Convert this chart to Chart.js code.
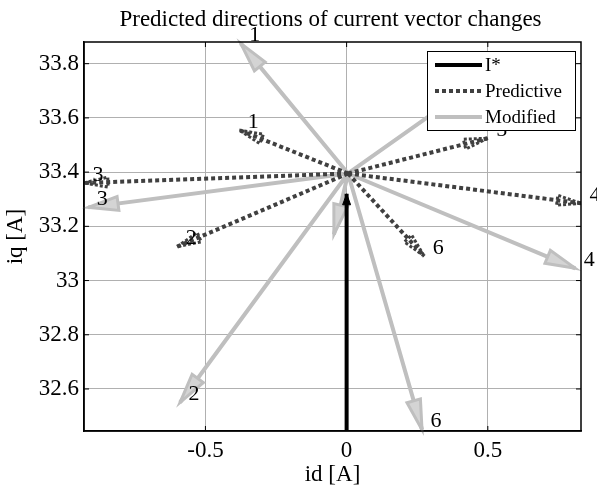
<!DOCTYPE html>
<html lang="en">
<head>
    <meta charset="UTF-8">
    <script src="https://cdn.jsdelivr.net/npm/chart.js"></script>
    <title>Predicted directions</title>
    <style>
        body { margin: 0; background: #fff; }
        #wrap { width: 597px; height: 492px; }
    </style>
</head>
<body>
<div id="wrap"><canvas id="vec"></canvas></div>
<script>
    // data
    const vecNames = ['1', '2', '3', '4', '5', '6'];
    const origin = [0.005, 33.395];
    const predId = [-0.38, -0.6, -0.93, 0.83, 0.5, 0.275];
    const predIq = [33.555, 33.125, 33.36, 33.285, 33.525, 33.09];
    const modId = [-0.375, -0.59, -0.915, 0.81, 0.5, 0.267, -0.045];
    const modIq = [33.875, 32.55, 33.27, 33.045, 33.76, 32.45, 33.17];
    const refId = [0, 0];
    const refIq = [32.445, 33.32];
    const xTicks = [-0.5, 0, 0.5];
    const yTicks = [32.6, 32.8, 33, 33.2, 33.4, 33.6, 33.8];

    const serif = "'Liberation Serif', 'Times New Roman', serif";

    function vecData(ids, iqs) {
        let out = [];
        for (let i = 0; i < ids.length; i++) {
            out.push({ x: origin[0], y: origin[1] }, { x: ids[i], y: iqs[i] }, { x: null, y: null });
        }
        return out;
    }

    function head(ctx, p0, p1, a) {
        let ang = Math.atan2(p1.y - p0.y, p1.x - p0.x);
        let c = Math.cos(ang), s = Math.sin(ang);
        let bx = p1.x - a.len * c, by = p1.y - a.len * s;
        ctx.save();
        ctx.beginPath();
        ctx.moveTo(p1.x, p1.y);
        ctx.lineTo(bx - a.half * s, by + a.half * c);
        ctx.lineTo(bx + a.half * s, by - a.half * c);
        ctx.closePath();
        if (a.fill) { ctx.fillStyle = a.fill; ctx.fill(); }
        ctx.setLineDash(a.dash || []);
        ctx.lineWidth = a.width;
        ctx.strokeStyle = a.color;
        ctx.stroke();
        ctx.restore();
    }

    const arrowPlugin = {
        id: 'arrowHeads',
        afterDatasetDraw(chart, args) {
            let ds = chart.data.datasets[args.index];
            if (!ds.arrow) return;
            let pts = args.meta.data;
            for (let k = 0; k + 1 < pts.length; k += 3) {
                head(chart.ctx, pts[k], pts[k + 1], ds.arrow);
            }
        }
    };

    const boxPlugin = {
        id: 'matlabBox',
        afterDatasetsDraw(chart) {
            let ctx = chart.ctx, a = chart.chartArea;
            let xs = chart.scales.x, ys = chart.scales.y;
            ctx.save();
            ctx.strokeStyle = '#000';
            ctx.lineWidth = 1.5;
            ctx.strokeRect(a.left, a.top, a.right - a.left, a.bottom - a.top);
            ctx.lineWidth = 1;
            ctx.beginPath();
            xTicks.forEach(v => {
                let px = xs.getPixelForValue(v);
                ctx.moveTo(px, a.bottom); ctx.lineTo(px, a.bottom - 5);
                ctx.moveTo(px, a.top); ctx.lineTo(px, a.top + 5);
            });
            yTicks.forEach(v => {
                let py = ys.getPixelForValue(v);
                ctx.moveTo(a.left, py); ctx.lineTo(a.left + 5, py);
                ctx.moveTo(a.right, py); ctx.lineTo(a.right - 5, py);
            });
            ctx.stroke();
            ctx.restore();
        },
        afterDraw(chart) {
            let ctx = chart.ctx, a = chart.chartArea;
            ctx.save();
            // title
            ctx.fillStyle = '#000';
            ctx.font = '23px ' + serif;
            ctx.textAlign = 'center';
            ctx.textBaseline = 'middle';
            ctx.fillText('Predicted directions of current vector changes', (a.left + a.right) / 2 - 2, 20);

            // vector numbers
            ctx.font = '22px ' + serif;
            [1, 2].forEach(di => {
                let pts = chart.getDatasetMeta(di).data;
                vecNames.forEach((name, i) => {
                    let p = pts[i * 3 + 1];
                    ctx.fillText(name, p.x + 14, p.y - 8);
                });
            });

            // legend box
            let lx = a.right - 154, ly = a.top + 9, lw = 148, lh = 79;
            ctx.fillStyle = '#fff';
            ctx.fillRect(lx, ly, lw, lh);
            ctx.strokeStyle = '#000';
            ctx.lineWidth = 1;
            ctx.strokeRect(lx + 0.5, ly + 0.5, lw, lh);
            ctx.font = '19px ' + serif;
            ctx.textAlign = 'left';
            chart.data.datasets.forEach((ds, i) => {
                let y = ly + 14 + i * 26;
                ctx.beginPath();
                ctx.setLineDash(ds.borderDash || []);
                ctx.strokeStyle = ds.borderColor;
                ctx.lineWidth = ds.borderWidth;
                ctx.moveTo(lx + 8, y);
                ctx.lineTo(lx + 55, y);
                ctx.stroke();
                ctx.setLineDash([]);
                ctx.fillStyle = '#000';
                ctx.fillText(ds.label, lx + 58, y + 1);
            });
            ctx.restore();
        }
    };

    let ctx = document.getElementById('vec').getContext('2d');
    let vecChart = new Chart(ctx, {
        type: 'scatter',
        data: {
            datasets: [
                {
                    label: 'I*',
                    data: [{ x: refId[0], y: refIq[0] }, { x: refId[1], y: refIq[1] }],
                    showLine: true,
                    borderColor: '#000000',
                    borderWidth: 4,
                    pointRadius: 0,
                    arrow: { len: 11, half: 4, width: 1, color: '#000', fill: '#000' }
                },
                {
                    label: 'Predictive',
                    data: vecData(predId, predIq),
                    showLine: true,
                    borderColor: '#404040',
                    borderWidth: 4,
                    borderDash: [4, 3],
                    pointRadius: 0,
                    arrow: { len: 24, half: 5, width: 3, color: '#404040', dash: [3, 2] }
                },
                {
                    label: 'Modified',
                    data: vecData(modId, modIq),
                    showLine: true,
                    borderColor: '#bfbfbf',
                    borderWidth: 4,
                    pointRadius: 0,
                    arrow: { len: 30, half: 7, width: 3, color: '#bfbfbf', fill: '#d4d4d4' }
                }
            ]
        },
        options: {
            responsive: true,
            maintainAspectRatio: false,
            animation: false,
            spanGaps: false,
            layout: { padding: { left: 0, top: 42, right: 16, bottom: 0 } },
            plugins: {
                legend: { display: false },
                tooltip: { enabled: false }
            },
            scales: {
                x: {
                    type: 'linear',
                    min: -0.93,
                    max: 0.83,
                    afterFit: function (scale) { scale.height = 61; },
                    afterBuildTicks: function (scale) { scale.ticks = xTicks.map(v => ({ value: v })); },
                    grid: { color: '#b0b0b0', drawTicks: false },
                    border: { color: '#000', width: 1.5 },
                    ticks: {
                        padding: 6,
                        color: '#000',
                        font: { family: serif, size: 23 },
                        callback: v => String(v)
                    },
                    title: {
                        display: true,
                        text: 'id [A]',
                        color: '#000',
                        font: { family: serif, size: 23 },
                        padding: { top: 0, bottom: 3 }
                    }
                },
                y: {
                    type: 'linear',
                    min: 32.445,
                    max: 33.88,
                    afterFit: function (scale) { scale.width = 84; },
                    afterBuildTicks: function (scale) { scale.ticks = yTicks.map(v => ({ value: v })); },
                    grid: { color: '#b0b0b0', drawTicks: false },
                    border: { color: '#000', width: 1.5 },
                    ticks: {
                        padding: 5,
                        color: '#000',
                        font: { family: serif, size: 23 },
                        callback: v => String(Math.round(v * 10) / 10)
                    },
                    title: {
                        display: true,
                        text: 'iq [A]',
                        color: '#000',
                        font: { family: serif, size: 23 },
                        padding: { top: 2, bottom: 0 }
                    }
                }
            }
        },
        plugins: [arrowPlugin, boxPlugin]
    });
</script>
</body>
</html>
